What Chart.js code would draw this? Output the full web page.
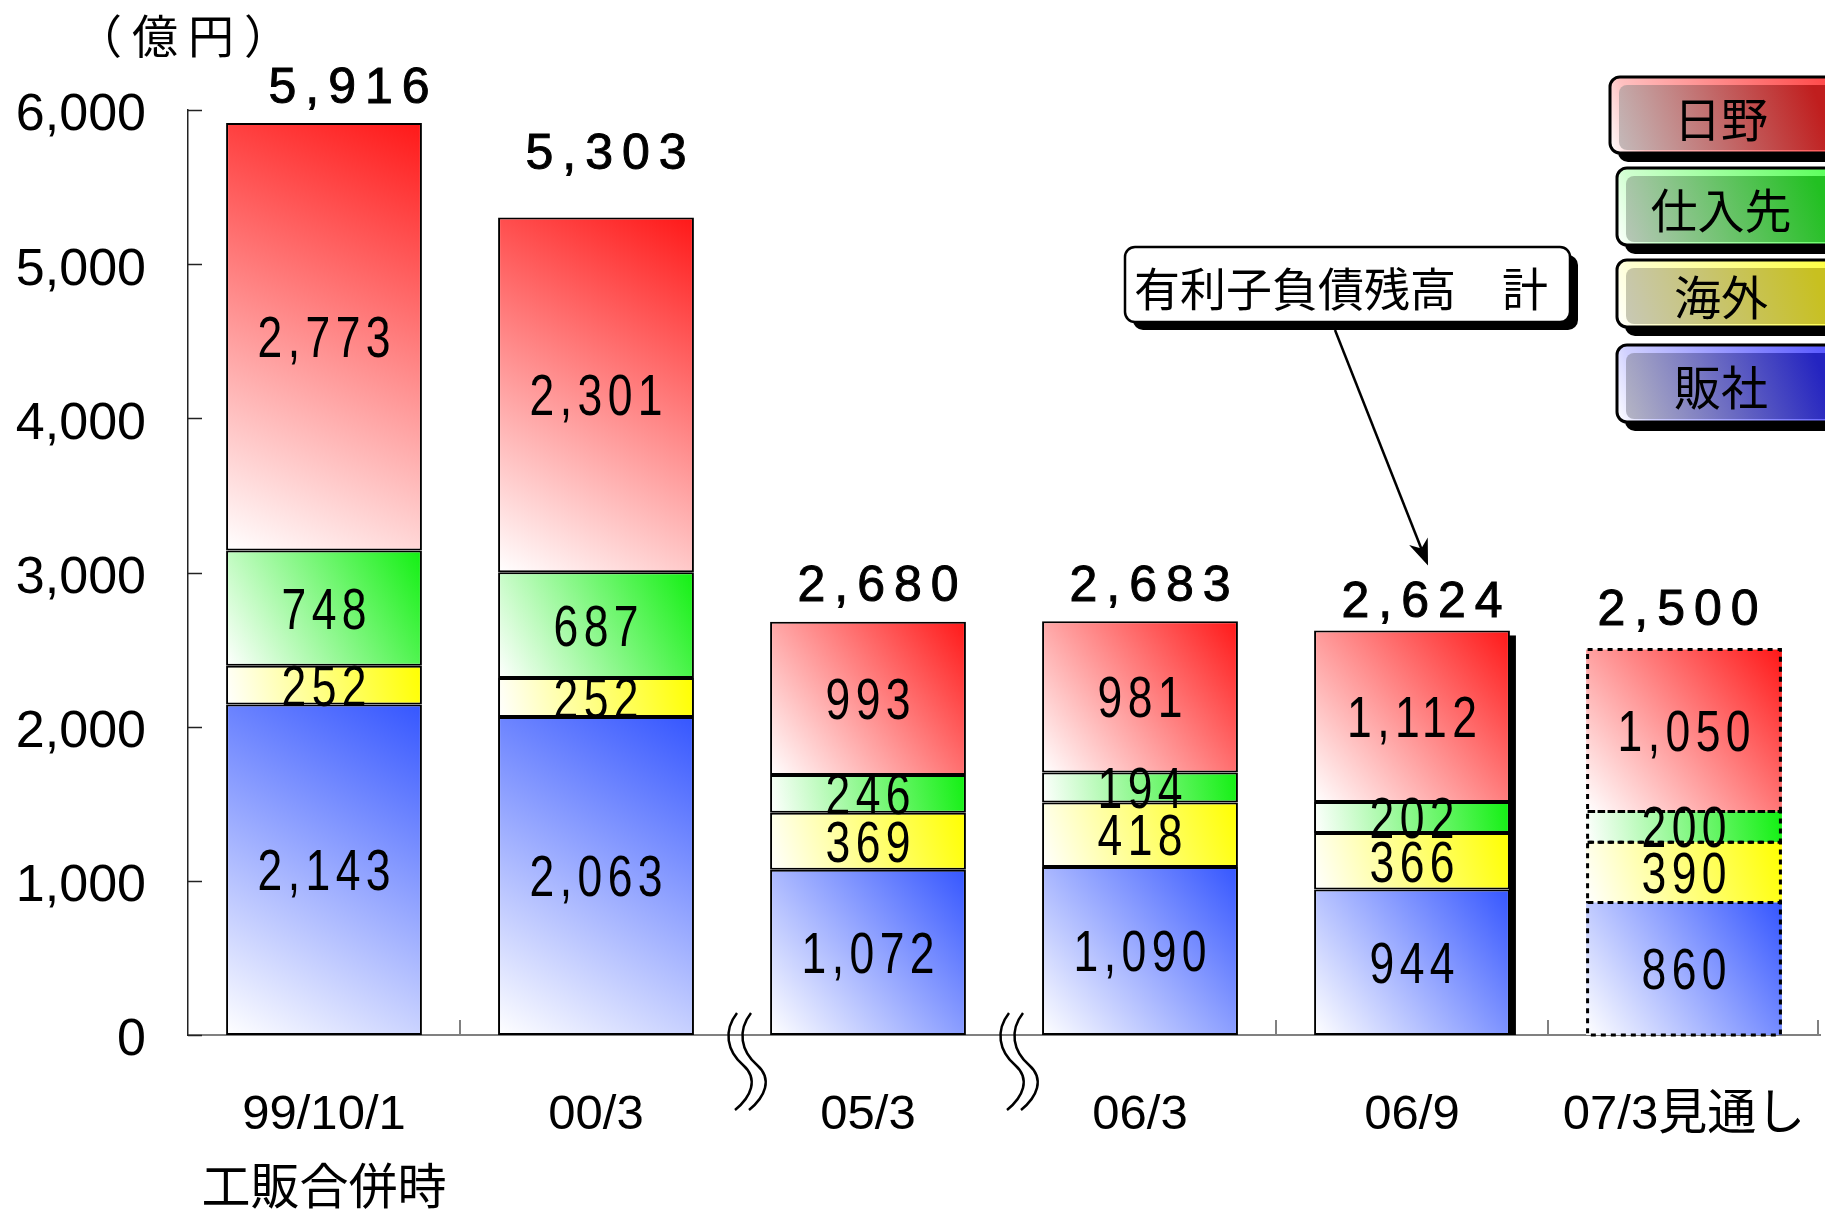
<!DOCTYPE html>
<html><head><meta charset="utf-8">
<script src="https://cdn.jsdelivr.net/npm/chart.js@4.4.0/dist/chart.umd.min.js"></script>
<style>html,body{margin:0;padding:0;background:#fff;}canvas{display:block;}</style>
</head><body>
<canvas id="c" width="1825" height="1209"></canvas>
<script>
// ---- data ----
const categories = [["99/10/1", "工販合併時"], "00/3", "05/3", "06/3", "06/9", "07/3見通し"];
const seriesNames = ["販社", "海外", "仕入先", "日野"];
const hanshaValues = [2143, 2063, 1072, 1090, 944, 860];
const kaigaiValues = [252, 252, 369, 418, 366, 390];
const shiiresakiValues = [748, 687, 246, 194, 202, 200];
const hinoValues = [2773, 2301, 993, 981, 1112, 1050];
const totalValues = [5916, 5303, 2680, 2683, 2624, 2500];
const yTickLabels = ["0", "1,000", "2,000", "3,000", "4,000", "5,000", "6,000"];
const unitLabel = "（億円）";
const calloutText = "有利子負債残高　計";

// ---- style ----
const seriesData = [hanshaValues, kaigaiValues, shiiresakiValues, hinoValues];
const seriesColors = ["#3556ff", "#ffff00", "#12f012", "#ff1818"];
const legendStyles = {
  "日野":  {bevel: ["#ffc0c0", "#ff4a4a"], face: ["#c4baba", "#c01e1e"]},
  "仕入先": {bevel: ["#d0ffd0", "#5cff5c"], face: ["#b8c6b8", "#22c022"]},
  "海外":  {bevel: ["#ffffd0", "#ffff44"], face: ["#c8c8b6", "#c8c020"]},
  "販社":  {bevel: ["#d0d0ff", "#5858ff"], face: ["#b6b6c4", "#2424c0"]}
};
const forecastIndex = 5;
const highlightIndex = 4;
const breakBoundaries = [2, 3];
const LAT = '"Liberation Sans", Arial, sans-serif';
const CJK = '"Noto Sans CJK JP", sans-serif';
const MIX = '"Liberation Sans", "Noto Sans CJK JP", sans-serif';
const totalLabelNudge = {dx: [25, 10, 10, 10, 10, -6], gap: [20, 48, 21, 20, 13, 25]};

function segGradient(c, color) {
  const chart = c.chart;
  if (!chart.chartArea || c.dataIndex === undefined) return color;
  const xs = chart.scales.x, ys = chart.scales.y;
  const di = c.dataIndex, dsi = c.datasetIndex;
  let start = 0;
  for (let k = 0; k < dsi; k++) start += chart.data.datasets[k].data[di];
  const end = start + chart.data.datasets[dsi].data[di];
  const cx = xs.getPixelForValue(di);
  const half = (xs.width / chart.data.labels.length) * 0.72 / 2;
  const y0 = ys.getPixelForValue(start), y1 = ys.getPixelForValue(end);
  const g = chart.ctx.createLinearGradient(cx - half, y0, cx + half, y1);
  g.addColorStop(0, "#ffffff");
  g.addColorStop(1, color);
  return g;
}

function drawNarrow(ctx, text, cx, cy, size, sx, spacing) {
  ctx.save();
  ctx.font = size + "px " + LAT;
  ctx.letterSpacing = spacing + "px";
  ctx.textAlign = "center";
  ctx.textBaseline = "alphabetic";
  ctx.fillStyle = "#000";
  ctx.translate(cx, cy + size * 0.716 / 2);
  ctx.scale(sx, 1);
  ctx.fillText(text, spacing / 2, 0);
  ctx.restore();
}

function drawButton(ctx, x, y, w, h, st, text) {
  ctx.save();
  ctx.fillStyle = "#000";
  ctx.beginPath(); ctx.roundRect(x + 8, y + 9, w, h, 10); ctx.fill();
  let g = ctx.createLinearGradient(x, y + h, x + w * 0.8, y);
  g.addColorStop(0, "#ffffff"); g.addColorStop(0.15, st.bevel[0]); g.addColorStop(1, st.bevel[1]);
  ctx.fillStyle = g;
  ctx.beginPath(); ctx.roundRect(x, y, w, h, 10); ctx.fill();
  g = ctx.createLinearGradient(x + 9, y + h, x + w * 0.75, y + 8);
  g.addColorStop(0, st.face[0]); g.addColorStop(1, st.face[1]);
  ctx.fillStyle = g;
  ctx.beginPath(); ctx.roundRect(x + 9, y + 8, w - 9, h - 11, 8); ctx.fill();
  ctx.lineWidth = 3; ctx.strokeStyle = "#000";
  ctx.beginPath(); ctx.roundRect(x, y, w, h, 10); ctx.stroke();
  ctx.fillStyle = "#000";
  ctx.font = "47px " + CJK;
  ctx.textAlign = "center"; ctx.textBaseline = "middle";
  ctx.fillText(text, 1721, y + h / 2 + 4);
  ctx.restore();
}

const deco = {
  id: "deco",
  afterDatasetsDraw(chart) {
    const ctx = chart.ctx;
    const metas = chart.data.datasets.map((d, i) => chart.getDatasetMeta(i));
    // highlight shadow on one bar
    {
      const topEl = metas[metas.length - 1].data[highlightIndex];
      const baseEl = metas[0].data[highlightIndex];
      const right = topEl.x + topEl.width / 2;
      ctx.save(); ctx.fillStyle = "#000";
      ctx.fillRect(right - 1, topEl.y + 5, 7, baseEl.base - topEl.y - 5);
      ctx.restore();
    }
    // dashed borders for forecast bar
    ctx.save();
    ctx.strokeStyle = "#000"; ctx.lineWidth = 3; ctx.setLineDash([5, 5]);
    metas.forEach(m => {
      const el = m.data[forecastIndex];
      const l = el.x - el.width / 2;
      ctx.strokeRect(l + 1.5, el.y, el.width - 3, el.base - el.y);
    });
    ctx.restore();
    // segment labels
    metas.forEach((m, i) => {
      m.data.forEach((el, j) => {
        const v = chart.data.datasets[i].data[j];
        drawNarrow(ctx, v.toLocaleString("en-US"), el.x, (el.y + el.base) / 2, 57, 0.78, 7);
      });
    });
    // totals
    const topMeta = metas[metas.length - 1];
    ctx.save();
    ctx.font = "50px " + LAT;
    ctx.letterSpacing = "9px";
    ctx.textAlign = "center"; ctx.textBaseline = "alphabetic"; ctx.fillStyle = "#000";
    ctx.strokeStyle = "#000"; ctx.lineWidth = 1;
    totalValues.forEach((t, j) => {
      const el = topMeta.data[j];
      const s = t.toLocaleString("en-US");
      const tx = el.x + totalLabelNudge.dx[j] + 4.5, ty = el.y - totalLabelNudge.gap[j];
      ctx.fillText(s, tx, ty);
      ctx.strokeText(s, tx, ty);
    });
    ctx.restore();
  },
  afterDraw(chart) {
    const ctx = chart.ctx;
    const xs = chart.scales.x, ys = chart.scales.y;
    const area = chart.chartArea;
    ctx.save();
    // y inward ticks
    ctx.strokeStyle = "#222"; ctx.lineWidth = 1.5;
    ys.ticks.forEach(t => {
      const py = Math.round(ys.getPixelForValue(t.value)) + 0.5;
      ctx.beginPath(); ctx.moveTo(area.left, py); ctx.lineTo(area.left + 14, py); ctx.stroke();
    });
    // x boundary ticks
    ctx.strokeStyle = "#808080"; ctx.lineWidth = 2;
    const n = chart.data.labels.length;
    for (let k = 1; k <= n; k++) {
      if (breakBoundaries.includes(k)) continue;
      const px = k < n ? (xs.getPixelForValue(k - 1) + xs.getPixelForValue(k)) / 2 : area.right - 2;
      ctx.beginPath(); ctx.moveTo(px, area.bottom); ctx.lineTo(px, area.bottom - 15); ctx.stroke();
    }
    // break marks
    ctx.strokeStyle = "#000"; ctx.lineWidth = 2.5;
    breakBoundaries.forEach(k => {
      const bx = (xs.getPixelForValue(k - 1) + xs.getPixelForValue(k)) / 2 + 3;
      const y0 = area.bottom - 22;
      [0, 14].forEach(dx => {
        const x = bx + dx;
        ctx.beginPath();
        ctx.moveTo(x + 2, y0);
        ctx.bezierCurveTo(x - 12, y0 + 18, x - 8, y0 + 38, x + 8, y0 + 52);
        ctx.bezierCurveTo(x + 24, y0 + 66, x + 16, y0 + 84, x + 0, y0 + 97);
        ctx.stroke();
      });
    });
    // unit label
    ctx.fillStyle = "#000";
    ctx.font = "46px " + CJK;
    ctx.letterSpacing = "10px";
    ctx.textAlign = "center"; ctx.textBaseline = "middle";
    ctx.fillText(unitLabel, 188, 36);
    ctx.letterSpacing = "0px";
    // legend buttons
    const boxes = [[1610, 77, 76], [1617, 168, 77], [1617, 260, 67], [1617, 345, 77]];
    const order = seriesNames.slice().reverse();
    order.forEach((name, i) => {
      const b = boxes[i];
      drawButton(ctx, b[0], b[1], 1880 - b[0], b[2], legendStyles[name], name);
    });
    // callout
    const tgt = chart.getDatasetMeta(3).data[highlightIndex];
    const tipX = tgt.x + 16, tipY = tgt.y - 65;
    const bx = 1125, by = 247, bw = 445, bh = 75;
    ctx.fillStyle = "#000";
    ctx.beginPath(); ctx.roundRect(bx + 8, by + 8, bw, bh, 10); ctx.fill();
    ctx.fillStyle = "#fff";
    ctx.beginPath(); ctx.roundRect(bx, by, bw, bh, 10); ctx.fill();
    ctx.lineWidth = 2.5; ctx.strokeStyle = "#000";
    ctx.beginPath(); ctx.roundRect(bx, by, bw, bh, 10); ctx.stroke();
    ctx.fillStyle = "#000";
    ctx.font = "46px " + CJK;
    ctx.textAlign = "left"; ctx.textBaseline = "middle";
    ctx.fillText(calloutText, bx + 9, by + bh / 2 + 4);
    // arrow
    const sx = 1335, sy = by + bh + 8;
    const ang = Math.atan2(tipY - sy, tipX - sx);
    ctx.lineWidth = 2.5;
    ctx.beginPath(); ctx.moveTo(sx, sy); ctx.lineTo(tipX - Math.cos(ang) * 10, tipY - Math.sin(ang) * 10); ctx.stroke();
    const L = 26, W = 10;
    const bxp = tipX - Math.cos(ang) * L, byp = tipY - Math.sin(ang) * L;
    const nx = -Math.sin(ang), ny = Math.cos(ang);
    ctx.beginPath();
    ctx.moveTo(tipX, tipY);
    ctx.lineTo(bxp + nx * W, byp + ny * W);
    ctx.lineTo(tipX - Math.cos(ang) * (L * 0.7), tipY - Math.sin(ang) * (L * 0.7));
    ctx.lineTo(bxp - nx * W, byp - ny * W);
    ctx.closePath(); ctx.fill();
    ctx.restore();
  }
};

const chart = new Chart(document.getElementById("c"), {
  type: "bar",
  data: {
    labels: categories,
    datasets: seriesNames.map((name, i) => ({
      label: name,
      data: seriesData[i],
      backgroundColor: c => segGradient(c, seriesColors[i]),
      borderColor: "#000",
      borderWidth: c => (c.dataIndex === forecastIndex ? 0 : 2),
      borderSkipped: false,
      barPercentage: 0.72,
      categoryPercentage: 1
    }))
  },
  options: {
    responsive: false,
    devicePixelRatio: 1,
    animation: false,
    events: [],
    layout: {padding: {top: 110, right: 5, left: 0, bottom: 0}},
    plugins: {legend: {display: false}, tooltip: {enabled: false}, title: {display: false}},
    scales: {
      x: {
        stacked: true,
        grid: {display: false, drawTicks: false},
        border: {display: true, color: "#808080", width: 2},
        ticks: {color: "#000", font: {family: MIX, size: 49, lineHeight: 1.53}, padding: 43, maxRotation: 0, autoSkip: false},
        afterFit: s => { s.height = 174; s.paddingLeft = 0; s.paddingRight = 0; }
      },
      y: {
        stacked: true,
        min: 0, max: 6000,
        grid: {display: false, drawTicks: false},
        border: {display: true, color: "#222", width: 1.5},
        ticks: {stepSize: 1000, color: "#000", font: {family: LAT, size: 52}, padding: 42, labelOffset: 6,
          callback: (v, i) => yTickLabels[i]},
        afterFit: s => { s.width = 188; s.paddingTop = 0; s.paddingBottom = 0; }
      }
    }
  },
  plugins: [deco]
});
</script>
</body></html>
